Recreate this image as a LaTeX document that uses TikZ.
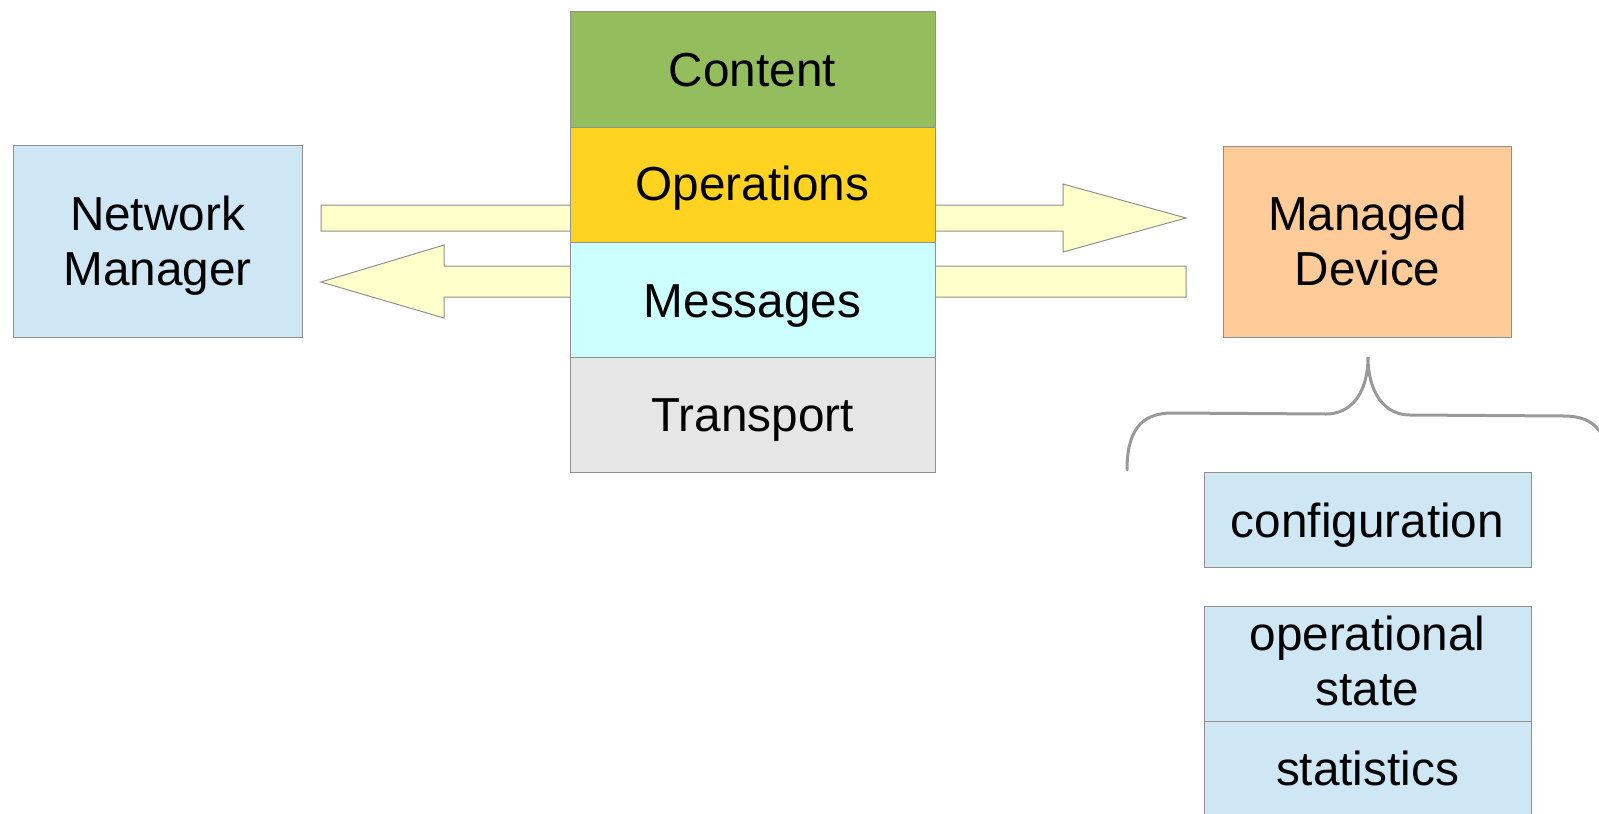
\documentclass[tikz,border=0pt]{standalone}
\usepackage{fontspec}
\setmainfont{Liberation Sans}
\definecolor{bordergray}{HTML}{909090}
\definecolor{bracegray}{HTML}{999999}
\definecolor{cgreen}{HTML}{94BD5E}
\definecolor{cyellow}{HTML}{FFD320}
\definecolor{ccyan}{HTML}{CCFFFF}
\definecolor{cgray}{HTML}{E6E6E6}
\definecolor{cblue}{HTML}{CFE7F5}
\definecolor{corange}{HTML}{FFCC99}
\definecolor{carrow}{HTML}{FFFFCC}
\begin{document}
\begin{tikzpicture}[x=1pt,y=-1pt,
  box/.style={rectangle, draw=bordergray, line width=1pt, inner sep=0pt, outer sep=0pt},
  lbl/.style={anchor=base, inner sep=0pt, outer sep=0pt, align=center, font=\fontsize{47.7}{55}\selectfont},
  blockarrow/.style={fill=carrow, draw=bordergray, line width=1pt, line join=miter},
  bracestyle/.style={draw=bracegray, line width=3pt, line cap=round}]
\clip (0,0) rectangle (1599,814);
\fill[white] (0,0) rectangle (1599,814);

% block arrows (behind the stack)
\coordinate (upLt) at (321,205);
\coordinate (upLb) at (321,231);
\coordinate (upR) at (1186,218);
\coordinate (loL) at (321,282);
\coordinate (loRt) at (1186,266);
\coordinate (loRb) at (1186,297);
\draw[blockarrow] (upLt) -- (1063,205) -- (1063,184) -- (upR) -- (1063,252) -- (1063,231) -- (upLb) -- cycle;
\draw[blockarrow] (loRt) -- (444,266) -- (444,245) -- (loL) -- (444,318) -- (444,297) -- (loRb) -- cycle;

% left box
\node[box, fill=cblue, minimum width=289, minimum height=192] (nm) at (157.5,241) {};
\node[lbl] (nmt) at (157.5,285) {Network\\Manager};

% protocol stack
\node[box, fill=cgreen, minimum width=365, minimum height=116] (content) at (752.5,69) {};
\node[box, fill=cyellow, minimum width=365, minimum height=115] (ops) at (752.5,184.5) {};
\node[box, fill=ccyan, minimum width=365, minimum height=115] (msg) at (752.5,299.5) {};
\node[box, fill=cgray, minimum width=365, minimum height=115] (trans) at (752.5,414.5) {};
\node[lbl] (contentt) at (752.5,86.7) {Content};
\node[lbl] (opst) at (752.5,200) {Operations};
\node[lbl] (msgt) at (752.5,317.3) {Messages};
\node[lbl] (transt) at (752.5,431.7) {Transport};

% managed device
\node[box, fill=corange, minimum width=288, minimum height=191] (md) at (1367.5,241.5) {};
\node[lbl] (mdt) at (1367.5,285.7) {Managed\\Device};

% brace
\draw[bracestyle] (1127,470) .. controls (1127,432) and (1140,413) .. (1172,413)
  -- (1326,414) .. controls (1352,414) and (1368,392) .. (1368,357)
  .. controls (1368,392) and (1384,415) .. (1410,415)
  -- (1564,416) .. controls (1596,416) and (1609,434) .. (1609,472);

% data boxes
\node[box, fill=cblue, minimum width=327, minimum height=95] (cfg) at (1367.5,519.5) {};
\node[lbl] (cfgt) at (1367.5,537.8) {configuration};
\node[box, fill=cblue, minimum width=327, minimum height=115] (ost) at (1367.5,663.5) {};
\node[lbl] (ostt) at (1367.5,705) {operational\\state};
\node[box, fill=cblue, minimum width=327, minimum height=115] (stat) at (1367.5,778.5) {};
\node[lbl] (statt) at (1367.5,785) {statistics};
\end{tikzpicture}
\end{document}
